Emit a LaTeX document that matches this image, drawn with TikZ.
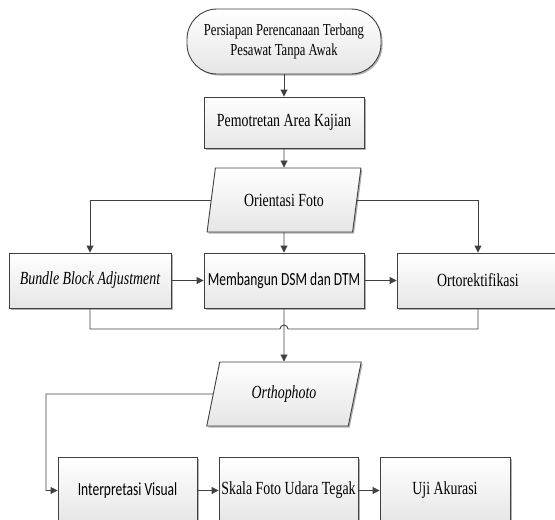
\documentclass[tikz,border=0pt]{standalone}
\usepackage{fontspec}
\setmainfont{Liberation Serif}[FakeStretch=0.75]
\newfontfamily\calibri{Carlito}[FakeStretch=0.73]
\usepackage{tikz}
\usetikzlibrary{arrows.meta,shapes.geometric,shadows}
\definecolor{edgegray}{HTML}{404040}

\begin{document}
\begin{tikzpicture}[x=1pt,y=-1pt,line width=0.9pt,color=edgegray]
            \tikzstyle{box}=[rectangle, draw, top color=white, bottom color=black!10, text=black, inner sep=0pt,
                drop shadow={shadow xshift=1.5pt, shadow yshift=-1.5pt, fill=black, opacity=0.3},
                font=\fontsize{18.5}{22}\selectfont]
            \tikzstyle{terminal}=[box, rounded corners=30pt, minimum width=194pt, minimum height=65pt, align=center,
                font=\fontsize{16.8}{20}\selectfont]
            \tikzstyle{process}=[box, minimum width=160pt, minimum height=55pt]
            \tikzstyle{lowbox}=[box, minimum width=139pt, minimum height=67pt]
            \tikzstyle{data}=[box, trapezium, trapezium left angle=68.7, trapezium right angle=111.3,
                trapezium stretches=true, minimum width=155pt, minimum height=64pt]
            \tikzstyle{flow}=[-{Triangle[length=7pt,width=7pt]}]

            \useasboundingbox (0,0) rectangle (555,520);

            % top of the chart
            \node[terminal] (start) at (284,41.5) {Persiapan Perencanaan Terbang\\Pesawat Tanpa Awak};
            \node[process, minimum height=51pt] (pemotretan) at (284,122.5) {Pemotretan Area Kajian};
            \node[data] (orientasi) at (284,200) {Orientasi Foto};

            % middle row
            \node[process, minimum width=162pt] (bba) at (90,280.5) {\itshape Bundle Block Adjustment};
            \node[process] (dsm) at (284,280.5) {\calibri Membangun DSM dan DTM};
            \node[process, minimum width=162pt] (orto) at (478,280.5) {Ortorektifikasi};

            % orthophoto
            \node[data] (ortho) at (284,394) {\itshape Orthophoto};

            % bottom row
            \node[lowbox] (interpretasi) at (127.5,490.5) {\calibri Interpretasi Visual};
            \node[lowbox] (skala) at (288.5,490.5) {Skala Foto Udara Tegak};
            \node[lowbox, minimum width=130pt] (uji) at (445,490.5) {Uji Akurasi};

            % turning points
            \coordinate (join) at (284,329);
            \coordinate (turn) at (46,394);

            % connecting lines
            \draw[flow] (start) -- (pemotretan);
            \draw[flow] (pemotretan) -- (orientasi);
            \draw[flow] (orientasi.west) -| (bba.north);
            \draw[flow] (orientasi) -- (dsm);
            \draw[flow] (orientasi.east) -| (orto.north);
            \draw[flow] (bba) -- (dsm);
            \draw[flow] (dsm) -- (orto);

            \draw (bba.south) |- ([xshift=-4pt]join) arc[start angle=180, end angle=0, radius=4pt] -| (orto.south);
            \draw[flow] (dsm.south) -- (ortho.north);

            \draw[flow] (ortho.west) -- (turn) |- (interpretasi.west);
            \draw[flow] (interpretasi) -- (skala);
            \draw[flow] (skala) -- (uji);
\end{tikzpicture}
\end{document}
